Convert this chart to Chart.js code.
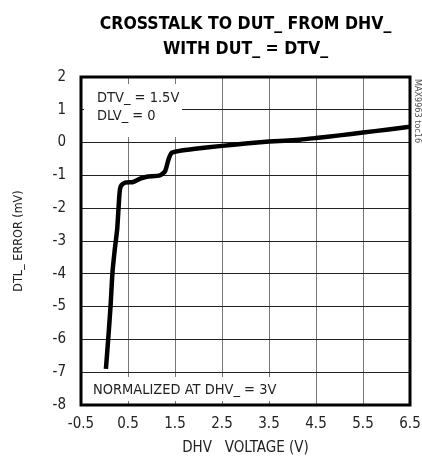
<!DOCTYPE html>
<html>
<head>
<meta charset="utf-8">
<script src="https://cdn.jsdelivr.net/npm/chart.js@4/dist/chart.umd.min.js"></script>
<style>
  html, body { margin: 0; padding: 0; background: #fff; }
  #wrap { width: 422px; height: 462px; }
</style>
</head>
<body>
<div id="wrap"><canvas id="xtalkChart"></canvas></div>
<script>
// DHV_ voltage (V) vs DTL_ error (mV)
const dhvVoltage = [0.03, 0.08, 0.13, 0.17, 0.22, 0.27, 0.29, 0.31, 0.33, 0.36, 0.44, 0.61, 0.76, 0.90, 1.18, 1.29, 1.36, 1.43, 1.57, 1.93, 2.50, 3.00, 3.50, 4.16, 4.50, 5.00, 5.50, 6.00, 6.50];
const dtlError   = [-6.90, -5.97, -4.96, -3.95, -3.24, -2.64, -2.20, -1.73, -1.42, -1.30, -1.22, -1.20, -1.10, -1.04, -1.00, -0.87, -0.52, -0.31, -0.26, -0.19, -0.10, -0.03, 0.03, 0.09, 0.14, 0.22, 0.31, 0.39, 0.48];

const xTicks = [-0.5, 0.5, 1.5, 2.5, 3.5, 4.5, 5.5, 6.5];
const yTicks = [2, 1, 0, -1, -2, -3, -4, -5, -6, -7, -8];

const FONT = '"Liberation Sans Narrow", "Arial Narrow", "DejaVu Sans Condensed", sans-serif';

// white label boxes + outer frame
const boxesPlugin = {
    id: 'boxes',
    beforeDatasetsDraw(chart) {
        const { ctx, chartArea: a } = chart;
        ctx.save();
        ctx.fillStyle = '#fff';
        ctx.fillRect(a.left + 3, a.top + 7, 98, 53);
        ctx.fillRect(a.left + 3, a.bottom - 28, 196, 24);
        ctx.fillStyle = '#222';
        ctx.font = '14.5px ' + FONT;
        ctx.textBaseline = 'middle';
        ctx.textAlign = 'left';
        ctx.fillText('DTV_ = 1.5V', a.left + 16, a.top + 21);
        ctx.fillText('DLV_ = 0', a.left + 16, a.top + 39);
        ctx.fillText('NORMALIZED AT DHV_ = 3V', a.left + 12, a.bottom - 15);
        ctx.restore();
    },
    afterDraw(chart) {
        const { ctx, chartArea: a } = chart;
        ctx.save();
        ctx.strokeStyle = '#000';
        ctx.lineWidth = 3;
        ctx.strokeRect(a.left, a.top, a.right - a.left, a.bottom - a.top);
        // part number tag on the right
        ctx.translate(a.right + 7, a.top + 2);
        ctx.rotate(Math.PI / 2);
        ctx.fillStyle = '#555';
        ctx.font = '9px ' + FONT;
        ctx.textBaseline = 'middle';
        ctx.fillText('MAX9963 toc16', 0, 0);
        ctx.restore();
    }
};

const ctx = document.getElementById('xtalkChart').getContext('2d');
new Chart(ctx, {
    type: 'line',
    data: {
        datasets: [{
            data: dhvVoltage.map((v, i) => ({ x: v, y: dtlError[i] })),
            borderColor: '#000',
            borderWidth: 4.5,
            pointRadius: 0,
            fill: false,
            tension: 0.2,
        }]
    },
    options: {
        responsive: true,
        maintainAspectRatio: false,
        animation: false,
        layout: { padding: { left: 0, right: 12, top: 0, bottom: 0 } },
        scales: {
            x: {
                type: 'linear',
                min: -0.5,
                max: 6.5,
                afterBuildTicks: s => { s.ticks = xTicks.map(v => ({ value: v })); },
                afterFit: s => { s.height = 57; s.paddingLeft = 0; s.paddingRight = 0; },
                ticks: {
                    autoSkip: false,
                    maxRotation: 0,
                    padding: 10,
                    color: '#222',
                    font: { family: FONT, size: 15 },
                    callback: v => v.toFixed(1)
                },
                grid: { color: '#777', lineWidth: 1, drawTicks: false },
                border: { display: false },
                title: {
                    display: true,
                    text: 'DHV   VOLTAGE (V)',
                    color: '#222',
                    font: { family: FONT, size: 15 },
                    padding: { top: 0, bottom: 5 }
                }
            },
            y: {
                min: -8,
                max: 2,
                afterBuildTicks: s => { s.ticks = yTicks.map(v => ({ value: v })); },
                afterFit: s => { s.width = 81; s.paddingTop = 0; s.paddingBottom = 0; },
                ticks: {
                    autoSkip: false,
                    padding: 15,
                    color: '#222',
                    font: { family: FONT, size: 15 },
                    callback: v => String(v)
                },
                grid: { color: '#222', lineWidth: 1, drawTicks: false },
                border: { display: false },
                title: {
                    display: true,
                    text: 'DTL_ ERROR (mV)',
                    color: '#222',
                    font: { family: FONT, size: 12.5 },
                    padding: { top: 11, bottom: 0 }
                }
            }
        },
        plugins: {
            legend: { display: false },
            tooltip: { enabled: false },
            title: {
                display: true,
                fullSize: false,
                text: ['CROSSTALK TO DUT_ FROM DHV_', 'WITH DUT_ = DTV_'],
                color: '#000',
                font: { family: FONT, size: 17.5, weight: 'bold', lineHeight: '25px' },
                padding: { top: 12, bottom: 15 }
            }
        }
    },
    plugins: [boxesPlugin]
});
</script>
</body>
</html>
